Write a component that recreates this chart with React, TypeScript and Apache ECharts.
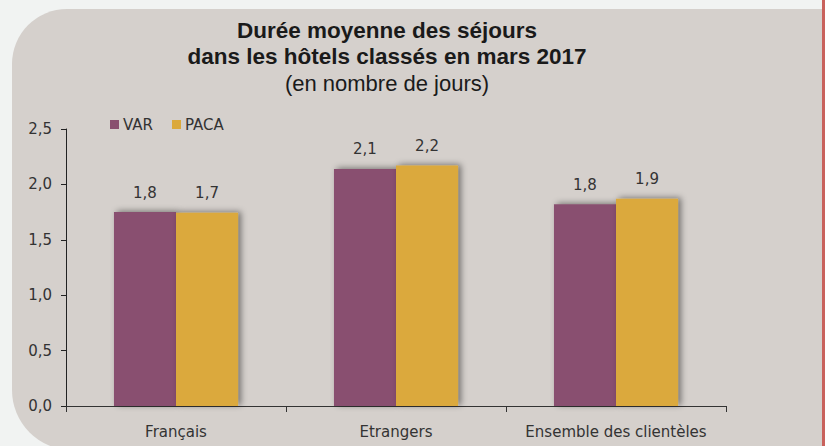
import React, { useEffect, useRef } from "react";
import * as echarts from "echarts";

const categories = ["Français", "Etrangers", "Ensemble des clientèles"];
const varValues = [1.75, 2.14, 1.82];
const pacaValues = [1.745, 2.17, 1.87];
const yTicks = [0, 0.5, 1, 1.5, 2, 2.5];
const titleLines = ["Durée moyenne des séjours", "dans les hôtels classés en mars 2017"];
const subtitle = "(en nombre de jours)";

const fmt = (v: number) => v.toFixed(1).replace(".", ",");
const FONT = "'DejaVu Sans', Verdana, sans-serif";
const TFONT = "'Liberation Sans', Arial, sans-serif";

export default function App() {
  const ref = useRef<HTMLDivElement>(null);
  useEffect(() => {
    if (!ref.current) return;
    const chart = echarts.init(ref.current, null, { renderer: "svg" });
    const shadow = {
      shadowColor: "rgba(0,0,0,0.45)",
      shadowBlur: 6,
      shadowOffsetX: 3,
      shadowOffsetY: -1,
    };
    chart.setOption({
      animation: false,
      backgroundColor: "#f1f3f2",
      graphic: [
        {
          type: "rect",
          z: -10,
          silent: true,
          shape: { x: 12, y: 9, width: 810, height: 441, r: [55, 0, 0, 60] },
          style: { fill: "#d5d0cc" },
        },
        {
          type: "rect",
          z: -10,
          silent: true,
          shape: { x: 822, y: 0, width: 3, height: 446 },
          style: { fill: "#c9625c" },
        },
        {
          type: "text",
          x: 387,
          y: 30.5,
          style: {
            text: titleLines[0],
            font: "bold 22.5px " + TFONT,
            fill: "#1a1a1a",
            align: "center",
            verticalAlign: "middle",
          },
        },
        {
          type: "text",
          x: 387,
          y: 56,
          style: {
            text: titleLines[1],
            font: "bold 22.5px " + TFONT,
            fill: "#1a1a1a",
            align: "center",
            verticalAlign: "middle",
          },
        },
        {
          type: "text",
          x: 387,
          y: 83,
          style: {
            text: subtitle,
            font: "22px " + TFONT,
            fill: "#1a1a1a",
            align: "center",
            verticalAlign: "middle",
          },
        },
      ],
      legend: {
        left: 105,
        top: 112,
        itemWidth: 9,
        itemHeight: 9,
        itemGap: 19,
        icon: "rect",
        textStyle: { fontFamily: FONT, fontSize: 15, color: "#333", padding: [0, 0, 0, -1] },
        data: ["VAR", "PACA"],
      },
      grid: { left: 66, right: 99, top: 129, bottom: 40, containLabel: false },
      xAxis: {
        type: "category",
        data: categories,
        axisLine: { lineStyle: { color: "#333", width: 1 } },
        axisTick: { show: true, length: 6, interval: 0, lineStyle: { color: "#333" } },
        axisLabel: { fontFamily: FONT, fontSize: 15, color: "#333", margin: 18, interval: 0 },
      },
      yAxis: {
        type: "value",
        min: yTicks[0],
        max: yTicks[yTicks.length - 1],
        interval: 0.5,
        splitLine: { show: false },
        axisLine: { show: true, lineStyle: { color: "#222", width: 1 } },
        axisTick: { show: true, length: 5, lineStyle: { color: "#222" } },
        axisLabel: { fontFamily: FONT, fontSize: 15, color: "#333", margin: 14, formatter: (v: number) => fmt(v) },
      },
      series: [
        {
          name: "VAR",
          type: "bar",
          data: varValues,
          barGap: "0%",
          barCategoryGap: "43.6%",
          itemStyle: { color: "#89506f", ...shadow },
          label: {
            show: true,
            position: "top",
            distance: 12,
            fontFamily: FONT,
            fontSize: 15,
            color: "#333",
            formatter: (p: any) => fmt(p.value),
          },
        },
        {
          name: "PACA",
          type: "bar",
          data: pacaValues,
          itemStyle: { color: "#dba93c", ...shadow },
          label: {
            show: true,
            position: "top",
            distance: 12,
            fontFamily: FONT,
            fontSize: 15,
            color: "#333",
            formatter: (p: any) => fmt(p.value),
          },
        },
      ],
    });
    return () => chart.dispose();
  }, []);
  return (
    <div
      ref={ref}
      style={{ position: "absolute", left: 0, top: 0, width: 825, height: 446 }}
    />
  );
}
